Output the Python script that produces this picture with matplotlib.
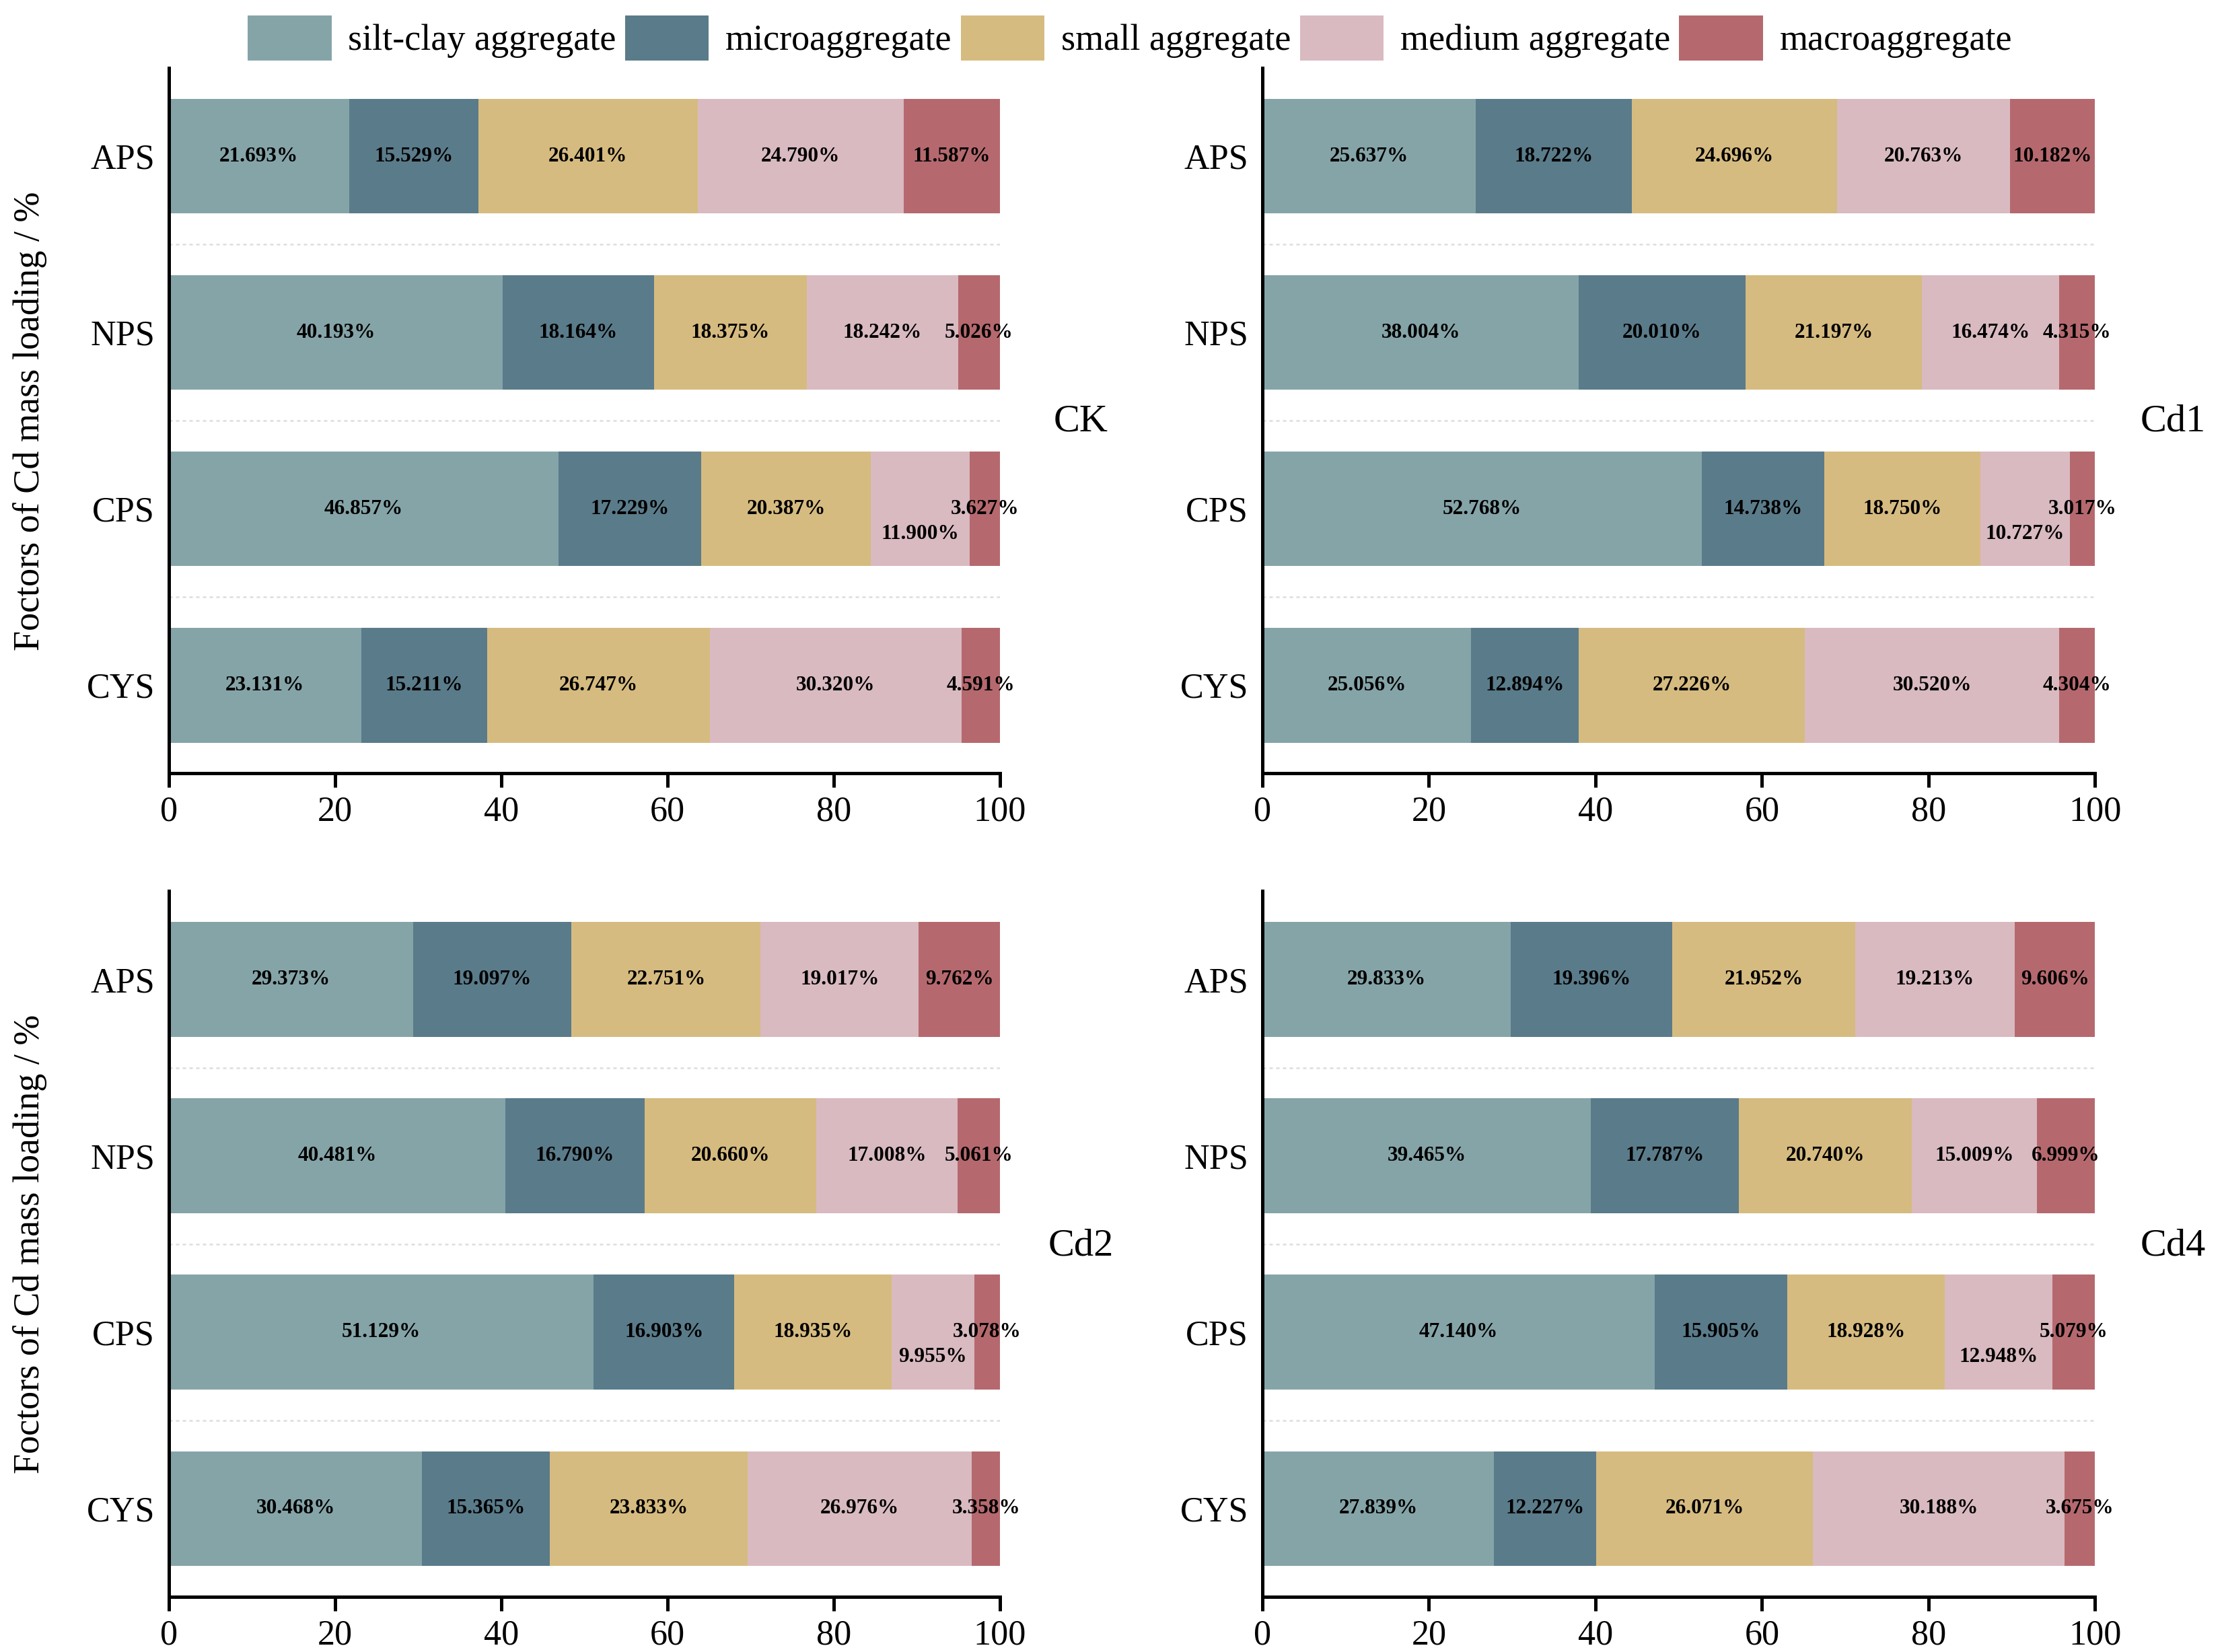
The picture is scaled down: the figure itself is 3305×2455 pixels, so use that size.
import numpy as np
import matplotlib.pyplot as plt

plt.rcParams['font.family'] = ['Liberation Serif', 'DejaVu Serif']

# --- data ---
sites = ["APS", "NPS", "CPS", "CYS"]
fractions = ["silt-clay aggregate", "microaggregate", "small aggregate",
             "medium aggregate", "macroaggregate"]
colors = ["#85A4A8", "#5A7B8A", "#D6BB80", "#D9BAC1", "#B5696E"]
panels = ["CK", "Cd1", "Cd2", "Cd4"]

ck = [[21.693, 15.529, 26.401, 24.790, 11.587],
      [40.193, 18.164, 18.375, 18.242, 5.026],
      [46.857, 17.229, 20.387, 11.900, 3.627],
      [23.131, 15.211, 26.747, 30.320, 4.591]]
cd1 = [[25.637, 18.722, 24.696, 20.763, 10.182],
       [38.004, 20.010, 21.197, 16.474, 4.315],
       [52.768, 14.738, 18.750, 10.727, 3.017],
       [25.056, 12.894, 27.226, 30.520, 4.304]]
cd2 = [[29.373, 19.097, 22.751, 19.017, 9.762],
       [40.481, 16.790, 20.660, 17.008, 5.061],
       [51.129, 16.903, 18.935, 9.955, 3.078],
       [30.468, 15.365, 23.833, 26.976, 3.358]]
cd4 = [[29.833, 19.396, 21.952, 19.213, 9.606],
       [39.465, 17.787, 20.740, 15.009, 6.999],
       [47.140, 15.905, 18.928, 12.948, 5.079],
       [27.839, 12.227, 26.071, 30.188, 3.675]]
panel_data = [ck, cd1, cd2, cd4]

# labels moved down inside the bar so they don't clash: (site index, fraction index)
shifted_labels = [(2, 3)]

fig = plt.figure(figsize=(3305 / 300, 2455 / 300), dpi=300)
boxes = [[0.0759, 0.5318, 0.3737, 0.4270],
         [0.5676, 0.5318, 0.3744, 0.4270],
         [0.0759, 0.0335, 0.3737, 0.4270],
         [0.5676, 0.0335, 0.3744, 0.4270]]
label_pos = [(0.486, 0.745), (0.977, 0.745), (0.486, 0.246), (0.977, 0.246)]

y = np.arange(len(sites))
for k, (name, data) in enumerate(zip(panels, panel_data)):
    ax = fig.add_axes(boxes[k])
    vals = np.array(data)
    left = np.zeros(len(sites))
    for j, frac in enumerate(fractions):
        ax.barh(y, vals[:, j], left=left, height=0.65, color=colors[j],
                label=frac, zorder=2)
        for i in range(len(sites)):
            dy = 0.14 if (i, j) in shifted_labels else 0.0
            ax.text(left[i] + vals[i, j] / 2, y[i] + dy, f"{vals[i, j]:.3f}%",
                    ha='center', va='center', fontsize=7.5, fontweight='bold',
                    zorder=3)
        left += vals[:, j]

    for yy in [0.5, 1.5, 2.5]:
        ax.plot([0, 100], [yy, yy], ls=(0, (2, 2)), color='#DDDDDD', lw=0.6,
                zorder=1)

    ax.set_xlim(0, 100)
    ax.set_ylim(3.5, -0.5)
    ax.set_yticks(y)
    ax.set_yticklabels(sites, fontsize=12.5)
    ax.set_xticks(np.arange(0, 101, 20))
    ax.tick_params(axis='x', labelsize=12.5, length=5, width=1.2,
                   direction='out', pad=3)
    ax.tick_params(axis='y', length=0, pad=5)
    for s in ['top', 'right']:
        ax.spines[s].set_visible(False)
    ax.spines['left'].set_linewidth(1.2)
    ax.spines['bottom'].set_linewidth(1.2)
    if k % 2 == 0:
        ax.set_ylabel("Foctors of Cd mass loading / %", fontsize=13,
                      labelpad=14)
    fig.text(label_pos[k][0], label_pos[k][1], name, fontsize=14,
             ha='center', va='center')

handles, labels = ax.get_legend_handles_labels()
fig.legend(handles, labels, loc='center', bbox_to_anchor=(0.508, 0.977),
           ncol=5, frameon=False, fontsize=13, handlelength=2.3,
           handleheight=1.5, handletextpad=0.45, columnspacing=0.25,
           borderaxespad=0)

fig.savefig("out.png", dpi=300)
plt.close(fig)
